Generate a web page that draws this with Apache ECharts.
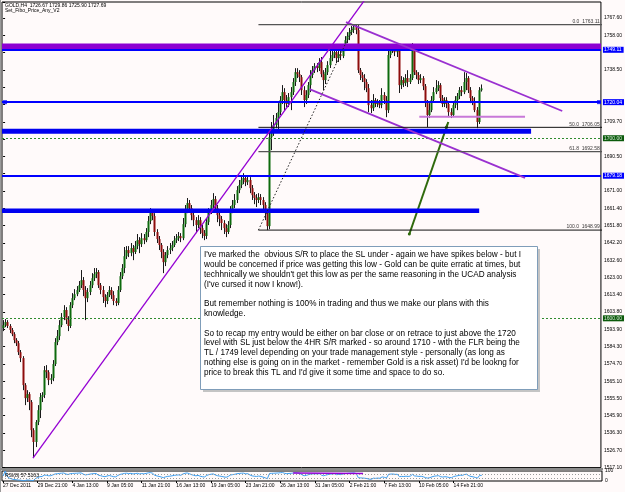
<!DOCTYPE html>
<html><head><meta charset="utf-8">
<script src="https://cdn.jsdelivr.net/npm/echarts@6/dist/echarts.min.js"></script>
<style>html,body{margin:0;padding:0;background:#fffafa;}#c{width:625px;height:492px;}</style>
</head><body><div id="c"></div>
<script>
// ---------------- data ----------------
const opens = [
1594.6,1596.2,1597.9,1595.7,1593.5,1591.2,1587.9,1586.2,1581.2,1577.9,
1562.9,1555.7,1557.9,1553.5,1537.9,1531.3,1542.4,1549.0,1556.3,1557.4,
1571.2,1570.1,1565.7,1566.8,1574.6,1586.8,1590.1,1596.2,1600.7,1604.6,
1599.0,1595.7,1607.3,1611.2,1613.4,1615.7,1618.4,1621.2,1615.7,1611.2,
1614.6,1618.4,1622.3,1624.6,1625.7,1618.4,1615.7,1611.8,1609.6,1612.9,
1615.7,1612.9,1609.6,1608.5,1615.7,1623.4,1627.9,1634.5,1637.9,1636.2,
1639.0,1636.8,1640.1,1643.4,1641.2,1644.5,1643.4,1647.9,1654.0,1659.0,
1656.8,1647.9,1644.0,1640.7,1636.8,1631.2,1635.1,1637.9,1639.0,1640.7,
1643.4,1644.5,1645.7,1644.5,1652.3,1660.1,1664.0,1661.2,1657.3,1654.5,
1651.8,1654.5,1650.1,1647.3,1645.7,1653.4,1659.0,1662.9,1666.2,1661.2,
1657.3,1655.1,1652.9,1650.1,1647.9,1651.8,1660.1,1662.9,1665.7,1671.2,
1674.0,1676.8,1677.9,1675.6,1676.8,1672.3,1668.4,1666.8,1665.7,1667.3,
1665.7,1662.9,1658.4,1651.2,1700.6,1704.5,1707.3,1711.2,1714.5,1721.2,
1725.6,1721.2,1719.0,1722.8,1725.6,1731.2,1736.7,1735.6,1733.9,1726.7,
1721.2,1724.0,1729.5,1735.1,1737.8,1740.1,1739.0,1742.3,1735.6,1732.3,
1736.7,1740.6,1744.5,1746.2,1747.8,1744.5,1746.7,1745.6,1750.1,1754.5,
1756.7,1758.9,1760.1,1761.7,1760.1,1737.8,1735.1,1733.4,1731.2,1727.8,
1718.4,1716.7,1721.2,1719.0,1720.1,1718.4,1724.0,1721.2,1715.6,1746.2,
1749.0,1750.1,1747.8,1749.0,1729.5,1732.3,1730.6,1733.4,1731.2,1733.4,
1750.1,1736.7,1735.1,1732.3,1733.4,1728.9,1719.5,1712.9,1715.6,1721.2,
1725.6,1727.8,1729.5,1722.3,1719.0,1721.2,1719.0,1714.5,1712.9,1718.4,
1721.2,1723.4,1726.7,1725.6,1731.2,1733.4,1726.7,1722.3,1720.1,1715.6,
1709.0,1726.67];
const highs = [
1599.0,1599.6,1599.0,1596.8,1594.6,1592.3,1589.0,1587.4,1582.4,1579.0,
1564.0,1560.1,1559.0,1554.6,1539.0,1543.5,1551.8,1558.5,1559.0,1573.5,
1574.0,1571.2,1569.0,1576.8,1589.0,1593.5,1599.0,1602.9,1607.3,1606.2,
1601.2,1609.0,1614.0,1616.2,1617.9,1620.7,1626.8,1622.9,1617.9,1616.8,
1620.7,1625.1,1627.9,1627.9,1626.8,1619.6,1617.9,1613.4,1614.6,1617.9,
1617.3,1615.1,1611.2,1617.9,1625.7,1630.1,1639.6,1640.1,1640.1,1641.8,
1640.7,1642.9,1646.8,1645.1,1647.3,1646.8,1650.1,1656.8,1661.2,1660.6,
1658.4,1649.5,1645.7,1641.8,1638.4,1636.8,1640.1,1641.8,1642.9,1645.7,
1646.8,1647.9,1647.3,1655.7,1662.9,1666.8,1665.7,1662.9,1659.0,1656.2,
1657.3,1656.2,1651.8,1649.0,1655.7,1661.2,1665.7,1669.5,1667.9,1662.9,
1659.0,1656.8,1654.5,1652.3,1654.0,1662.3,1665.7,1669.0,1673.4,1676.8,
1679.0,1680.6,1679.5,1679.0,1678.4,1674.0,1670.1,1669.0,1669.5,1669.0,
1667.3,1664.5,1660.1,1702.9,1709.0,1712.9,1714.0,1719.5,1723.4,1729.5,
1727.8,1724.0,1725.1,1728.4,1733.4,1738.9,1738.9,1737.8,1735.1,1728.9,
1726.7,1731.2,1737.8,1740.1,1741.7,1741.7,1744.5,1745.1,1737.8,1739.0,
1742.8,1749.0,1750.1,1750.6,1749.5,1749.0,1748.4,1752.3,1756.7,1758.9,
1761.2,1762.3,1762.8,1763.11,1762.8,1739.0,1736.7,1735.6,1732.8,1730.1,
1721.2,1724.5,1722.3,1721.7,1721.2,1727.8,1725.6,1723.4,1749.0,1751.7,
1752.3,1751.7,1751.2,1750.1,1734.5,1733.9,1735.6,1737.8,1735.6,1752.8,
1751.2,1737.8,1736.7,1735.6,1734.5,1730.1,1721.2,1719.5,1723.4,1728.4,
1732.3,1731.7,1730.6,1724.0,1722.8,1722.8,1720.6,1716.7,1720.1,1723.4,
1725.1,1728.4,1729.0,1736.7,1736.2,1734.5,1728.4,1723.4,1722.8,1717.3,
1728.4,1729.86];
const lows = [
1592.9,1595.1,1594.6,1591.8,1590.1,1586.2,1584.6,1579.6,1575.7,1560.1,
1551.8,1553.5,1549.0,1534.0,1522.4,1528.5,1540.7,1544.6,1553.5,1555.7,
1566.8,1562.9,1563.5,1565.1,1573.5,1585.1,1587.9,1595.1,1599.0,1596.8,
1592.9,1594.6,1605.7,1610.1,1612.3,1614.6,1616.8,1612.3,1599.0,1609.0,
1612.9,1616.8,1620.7,1622.3,1616.8,1613.4,1608.5,1606.2,1607.9,1611.8,
1610.7,1607.3,1606.8,1607.3,1614.6,1621.8,1625.1,1632.9,1634.0,1634.5,
1632.3,1635.7,1638.4,1636.2,1639.6,1641.2,1642.3,1645.1,1652.3,1654.5,
1645.7,1641.8,1637.9,1633.4,1625.1,1629.0,1633.4,1635.7,1637.3,1639.6,
1641.8,1642.9,1642.3,1643.4,1650.6,1658.4,1659.0,1654.5,1651.2,1647.3,
1650.1,1646.8,1644.5,1643.4,1644.0,1651.8,1657.9,1661.2,1659.0,1653.4,
1651.2,1649.0,1646.8,1645.1,1646.8,1650.1,1658.4,1661.2,1664.0,1669.5,
1672.3,1674.5,1673.4,1674.0,1669.5,1665.7,1663.4,1661.8,1664.0,1662.9,
1660.1,1654.5,1648.99,1649.5,1693.4,1701.3,1705.6,1702.9,1712.9,1719.0,
1715.6,1717.3,1717.3,1715.6,1724.0,1729.0,1733.4,1731.2,1724.0,1717.3,
1719.0,1722.3,1725.6,1733.4,1736.2,1736.7,1737.3,1733.9,1726.7,1730.1,
1735.1,1739.0,1742.8,1744.5,1741.7,1742.3,1743.4,1744.5,1748.4,1752.8,
1754.5,1757.3,1758.4,1757.8,1736.2,1732.3,1731.2,1726.7,1725.6,1714.5,
1714.0,1715.1,1717.3,1717.3,1716.7,1716.7,1719.0,1711.7,1714.0,1744.5,
1747.3,1745.6,1745.1,1725.1,1727.3,1728.4,1729.0,1728.4,1730.1,1732.3,
1735.1,1732.8,1730.1,1730.6,1726.7,1717.3,1706.2,1711.2,1714.5,1720.1,
1724.5,1726.2,1720.1,1717.3,1717.3,1716.7,1711.7,1711.2,1711.7,1716.7,
1715.6,1721.7,1723.4,1724.5,1726.7,1725.1,1719.5,1718.4,1714.5,1705.6,
1707.9,1725.90];
const closes = [
1596.2,1597.9,1595.7,1593.5,1591.2,1587.9,1586.2,1581.2,1577.9,1562.9,
1555.7,1557.9,1553.5,1537.9,1531.3,1542.4,1549.0,1556.3,1557.4,1571.2,
1570.1,1565.7,1566.8,1574.6,1586.8,1590.1,1596.2,1600.7,1604.6,1599.0,
1595.7,1607.3,1611.2,1613.4,1615.7,1618.4,1621.2,1615.7,1611.2,1614.6,
1618.4,1622.3,1624.6,1625.7,1618.4,1615.7,1611.8,1609.6,1612.9,1615.7,
1612.9,1609.6,1608.5,1615.7,1623.4,1627.9,1634.5,1637.9,1636.2,1639.0,
1636.8,1640.1,1643.4,1641.2,1644.5,1643.4,1647.9,1654.0,1659.0,1656.8,
1647.9,1644.0,1640.7,1636.8,1631.2,1635.1,1637.9,1639.0,1640.7,1643.4,
1644.5,1645.7,1644.5,1652.3,1660.1,1664.0,1661.2,1657.3,1654.5,1651.8,
1654.5,1650.1,1647.3,1645.7,1653.4,1659.0,1662.9,1666.2,1661.2,1657.3,
1655.1,1652.9,1650.1,1647.9,1651.8,1660.1,1662.9,1665.7,1671.2,1674.0,
1676.8,1677.9,1675.6,1676.8,1672.3,1668.4,1666.8,1665.7,1667.3,1665.7,
1662.9,1658.4,1651.2,1700.6,1704.5,1707.3,1711.2,1714.5,1721.2,1725.6,
1721.2,1719.0,1722.8,1725.6,1731.2,1736.7,1735.6,1733.9,1726.7,1721.2,
1724.0,1729.5,1735.1,1737.8,1740.1,1739.0,1742.3,1735.6,1732.3,1736.7,
1740.6,1744.5,1746.2,1747.8,1744.5,1746.7,1745.6,1750.1,1754.5,1756.7,
1758.9,1760.1,1761.7,1760.1,1737.8,1735.1,1733.4,1731.2,1727.8,1718.4,
1716.7,1721.2,1719.0,1720.1,1718.4,1724.0,1721.2,1715.6,1746.2,1749.0,
1750.1,1747.8,1749.0,1729.5,1732.3,1730.6,1733.4,1731.2,1733.4,1750.1,
1736.7,1735.1,1732.3,1733.4,1728.9,1719.5,1712.9,1715.6,1721.2,1725.6,
1727.8,1729.5,1722.3,1719.0,1721.2,1719.0,1714.5,1712.9,1718.4,1721.2,
1723.4,1726.7,1725.6,1731.2,1733.4,1726.7,1722.3,1720.1,1715.6,1709.0,
1726.7,1727.69];

const dateLabels = ['27 Dec 2011','29 Dec 21:00','4 Jan 13:00','9 Jan 05:00','11 Jan 21:00','16 Jan 13:00','19 Jan 05:00','23 Jan 21:00','26 Jan 13:00','31 Jan 05:00','2 Feb 21:00','7 Feb 13:00','10 Feb 05:00','14 Feb 21:00'];
const priceTickLabels = ['1517.10','1526.70','1536.30','1545.90','1555.50','1565.10','1574.70','1584.30','1593.90','1603.80','1613.40','1623.00','1632.60','1642.20','1651.80','1661.40','1671.00','','1690.50','','1709.70','','','1738.50','','1758.00','1767.60'];

const blueLevels = [1749.11, 1720.04, 1679.18];
const roundLevels = [1700.00, 1600.00];
const lastPrice = 1727.69;
const resistanceBand = 1751.06;
const zoneUpper = [[-0.5, 1703.85], [244.2, 1703.85]];
const zoneLower = [[-0.5, 1659.7], [220.2, 1659.7]];
const riseTrend = [[13.81, 1522.4], [168, 1778.0]];
const channelTop = [[158.6, 1764.5], [258.6, 1715.1]];
const channelBottom = [[141.7, 1727.3], [241.4, 1678.0]];
const rangeLine = [[192.5, 1711.9], [241.4, 1711.9]];
const arrowPts = [[187.9, 1646.8], [205.9, 1709.0]];
const fibAnchors = [[118.1, 1648.99], [162.5, 1763.11]];
const fibRatios = [0.0, 50.0, 61.8, 100.0];
const fibPrices = [1763.11, 1706.05, 1692.58, 1648.99];
const levelMarkers = [[0.9, 1720.04], [275.6, 1720.04]];
const rsiTrend = [[133.9, 79], [166.2, 75]];

const titleText = 'GOLD,H4  1726.67 1729.86 1725.90 1727.69';
const indicatorName = 'Set_Fibo_Price_Any_V2';
const rsiText = 'RSI(8) 57.5163';
const noteLines = [
"I've marked the  obvious S/R to place the SL under - again we have spikes below - but I",
"would be concerned if price was getting this low - Gold can be quite erratic at times, but",
"techhnically we shouldn't get this low as per the same reasoning in the UCAD analysis",
"(I've cursed it now I know!).",
"",
"But remember nothing is 100% in trading and thus we make our plans with this",
"knowledge.",
"",
"So to recap my entry would be either on bar close or on retrace to just above the 1720",
"level with SL just below the 4HR S/R marked - so around 1710 - with the FLR being the",
"TL / 1749 level depending on your trade management style - personally (as long as",
"nothing else is going on in the market - remember Gold is a risk asset) I'd be lookng for",
"price to break this TL and I'd give it some time and space to do so."
];

// ---------------- chart ----------------
const N = 277;
const cats = Array.from({length: N}, (_, i) => String(i));
const FONT = '"Liberation Sans", Arial, sans-serif';

function rsiCalc(arr, n) {
  const out = []; let ag = 0, al = 0;
  for (let i = 0; i < arr.length; i++) {
    if (i === 0) { out.push(50); continue; }
    const d = arr[i] - arr[i - 1];
    const g = Math.max(d, 0), l = Math.max(-d, 0);
    const k = Math.min(i, n);
    ag = (ag * (k - 1) + g) / k; al = (al * (k - 1) + l) / k;
    out.push(al === 0 ? 100 : 100 - 100 / (1 + ag / al));
  }
  return out;
}
const rsiValues = rsiCalc(closes, 8);

const candleData = closes.map((c, i) => [i, opens[i], c, lows[i], highs[i]]);

function lineSeries(data, style, extra) {
  return Object.assign({
    type: 'line', xAxisIndex: 1, yAxisIndex: 0, data: data, symbol: 'none',
    lineStyle: style, silent: true, animation: false, clip: true, z: 5
  }, extra || {});
}

const tagLabel = (txt, bg, fg) => ({
  show: true, position: 'end', distance: 2, formatter: txt,
  fontSize: 5, fontFamily: FONT, color: fg || '#ffffff', backgroundColor: bg,
  padding: [1, 2, 0, 1], lineHeight: 5
});

const markItems = [];
blueLevels.forEach(v => markItems.push({
  yAxis: v, lineStyle: {color: '#0000ff', width: 2, type: 'solid'},
  label: tagLabel(v.toFixed(2), '#0000ff')
}));
roundLevels.forEach(v => markItems.push({
  yAxis: v, lineStyle: {color: '#2e8b2e', width: 1, type: [2, 2]},
  label: tagLabel(v.toFixed(2), '#0b5a0b', '#d8e8d8')
}));
markItems.push({
  yAxis: lastPrice, lineStyle: {opacity: 0},
  label: tagLabel(lastPrice.toFixed(2), '#000000')
});

const series = [
  {
    type: 'custom', xAxisIndex: 0, yAxisIndex: 0, data: candleData, z: 3,
    encode: {x: 0, y: [1, 2, 3, 4]}, animation: false, silent: true,
    renderItem: function (params, api) {
      const i = api.value(0), o = api.value(1), c = api.value(2), l = api.value(3), h = api.value(4);
      const po = api.coord([i, o]), pc = api.coord([i, c]), pl = api.coord([i, l]), ph = api.coord([i, h]);
      const x = Math.round(po[0]) + 0.5;
      const top = Math.min(po[1], pc[1]), bot = Math.max(po[1], pc[1]);
      const up = c >= o;
      return {type: 'group', children: [
        {type: 'line', shape: {x1: x, y1: ph[1], x2: x, y2: pl[1]}, style: {stroke: '#1a1a1a', lineWidth: 1}},
        {type: 'rect', shape: {x: x - 1, y: top, width: 2, height: Math.max(bot - top, 1)},
         style: {fill: up ? '#0d6a0d' : '#8e0c0c'}}
      ]};
    }
  },
  // purple resistance band
  lineSeries([[-0.5, resistanceBand], [N - 0.5, resistanceBand]], {color: '#8d00d2', width: 5.8}, {z: 4,
    markLine: {symbol: 'none', silent: true, animation: false, data: markItems, precision: 2}}),
  lineSeries(zoneUpper, {color: '#0000f0', width: 5}),
  lineSeries(zoneLower, {color: '#0000f0', width: 4.5}),
  lineSeries(riseTrend, {color: '#9400d3', width: 1.3}),
  lineSeries(channelTop, {color: '#9a30d0', width: 1.8}),
  lineSeries(channelBottom, {color: '#9a30d0', width: 1.8}),
  lineSeries(rangeLine, {color: '#c878d8', width: 2}),
  lineSeries(fibAnchors, {color: '#222222', width: 1, type: [1.5, 2]}),
];
fibPrices.forEach((p, k) => {
  series.push(lineSeries([[fibAnchors[0][0], p], [N, p]],
    {color: (k % 2 === 0) ? '#555555' : '#111111', width: (k % 2 === 0) ? 1.4 : 1}));
});
series.push({
  type: 'scatter', xAxisIndex: 1, yAxisIndex: 0, symbolSize: 0, silent: true, animation: false, z: 6,
  data: fibPrices.map((p, k) => ({value: [276.0, p], name: fibRatios[k].toFixed(1) + '  ' + p.toFixed(2)})),
  label: {show: true, position: 'left', distance: 0, offset: [0, -3], formatter: '{b}',
    fontSize: 5, fontFamily: FONT, color: '#000'}
});
series.push({
  type: 'scatter', xAxisIndex: 1, yAxisIndex: 0, symbol: 'rect', symbolSize: 4, silent: true, animation: false, z: 6,
  data: levelMarkers, itemStyle: {color: '#0000ff'}
});
series.push({
  type: 'line', xAxisIndex: 1, yAxisIndex: 0, data: [], silent: true, animation: false, z: 7,
  markLine: {
    silent: true, animation: false, symbol: ['circle', 'arrow'], symbolSize: [3, 7],
    lineStyle: {color: '#2f6a0c', width: 2, type: 'solid'}, label: {show: false},
    data: [[{coord: arrowPts[0]}, {coord: arrowPts[1]}]]
  }
});
// RSI window
series.push({
  type: 'line', xAxisIndex: 2, yAxisIndex: 1, data: rsiValues, symbol: 'none', silent: true, animation: false,
  lineStyle: {color: '#3d9ef0', width: 1},
  markLine: {symbol: 'none', silent: true, animation: false, label: {show: false},
    lineStyle: {color: '#9a9a9a', width: 1, type: [1, 2]}, data: [{yAxis: 70}, {yAxis: 30}]}
});
series.push({
  type: 'line', xAxisIndex: 3, yAxisIndex: 1, data: rsiTrend, symbol: 'none', silent: true, animation: false,
  lineStyle: {color: '#9400d3', width: 1.5}
});

const option = {
  animation: false,
  backgroundColor: '#fffafa',
  textStyle: {fontFamily: FONT},
  grid: [
    {left: 2, top: 2, width: 600, height: 465.6, show: true, borderColor: '#000', borderWidth: 1, backgroundColor: 'transparent'},
    {left: 2, top: 471, width: 600, height: 10, show: true, borderColor: '#000', borderWidth: 1, backgroundColor: 'transparent'}
  ],
  xAxis: [
    {type: 'category', gridIndex: 0, data: cats, boundaryGap: true, show: false},
    {type: 'value', gridIndex: 0, min: -0.5, max: N - 0.5, show: false},
    {type: 'category', gridIndex: 1, data: cats, boundaryGap: true,
      axisLine: {show: false},
      axisTick: {show: true, alignWithLabel: true, length: 2, lineStyle: {color: '#000'},
        interval: (idx) => idx % 16 === 0 && idx / 16 < dateLabels.length},
      axisLabel: {interval: 15, align: 'left', margin: 2, fontSize: 5, fontFamily: FONT, color: '#000',
        formatter: (v, idx) => dateLabels[idx / 16] || ''}},
    {type: 'value', gridIndex: 1, min: -0.5, max: N - 0.5, show: false}
  ],
  yAxis: [
    {type: 'value', gridIndex: 0, position: 'right', min: 1517.1, max: 1775.65, interval: 9.6,
      splitLine: {show: false}, axisLine: {show: false},
      axisTick: {show: true, length: 2, lineStyle: {color: '#000'}},
      axisLabel: {margin: 3, fontSize: 5, fontFamily: FONT, color: '#000',
        formatter: v => priceTickLabels[Math.round((v - 1517.1) / 9.6)] || ''}},
    {type: 'value', gridIndex: 1, position: 'right', min: 0, max: 100, interval: 100,
      splitLine: {show: false}, axisLine: {show: false}, axisTick: {show: false},
      axisLabel: {margin: 3, fontSize: 5, fontFamily: FONT, color: '#000',
        formatter: v => (v === 100 ? '100' : (v === 0 ? '0' : ''))}}
  ],
  graphic: [
    {type: 'line', shape: {x1: 0.5, y1: 0, x2: 0.5, y2: 492}, style: {stroke: '#9a9a9a', lineWidth: 1}, z: 20, silent: true},
    {type: 'rect', shape: {x: 0, y: 468, width: 603, height: 2.5}, style: {fill: '#8c8c8c'}, z: 20, silent: true},
    {type: 'text', x: 5, y: 3.5, z: 20, silent: true, style: {text: titleText, fontSize: 5, fontFamily: FONT, fill: '#000', verticalAlign: 'top'}},
    {type: 'text', x: 5, y: 8.5, z: 20, silent: true, style: {text: indicatorName, fontSize: 5, fontFamily: FONT, fill: '#000', verticalAlign: 'top'}},
    {type: 'text', x: 5, y: 473, z: 20, silent: true, style: {text: rsiText, fontSize: 5, fontFamily: FONT, fill: '#000', verticalAlign: 'top'}},
    {type: 'rect', shape: {x: 203, y: 249, width: 337, height: 143}, z: 29, silent: true,
      style: {fill: '#c4c4c4'}},
    {type: 'rect', shape: {x: 200.5, y: 246.5, width: 337, height: 143}, z: 30, silent: true,
      style: {fill: '#ffffff', stroke: '#7f9db9', lineWidth: 1}},
    {type: 'text', x: 204, y: 250, z: 31, silent: true,
      style: {text: noteLines.join('\n'), fontSize: 8.2, fontFamily: FONT, fill: '#000', lineHeight: 9.8, verticalAlign: 'top'}}
  ],
  series: series
};

const chart = echarts.init(document.getElementById('c'), null, {renderer: 'canvas', width: 625, height: 492});
chart.setOption(option);
</script>
</body></html>
